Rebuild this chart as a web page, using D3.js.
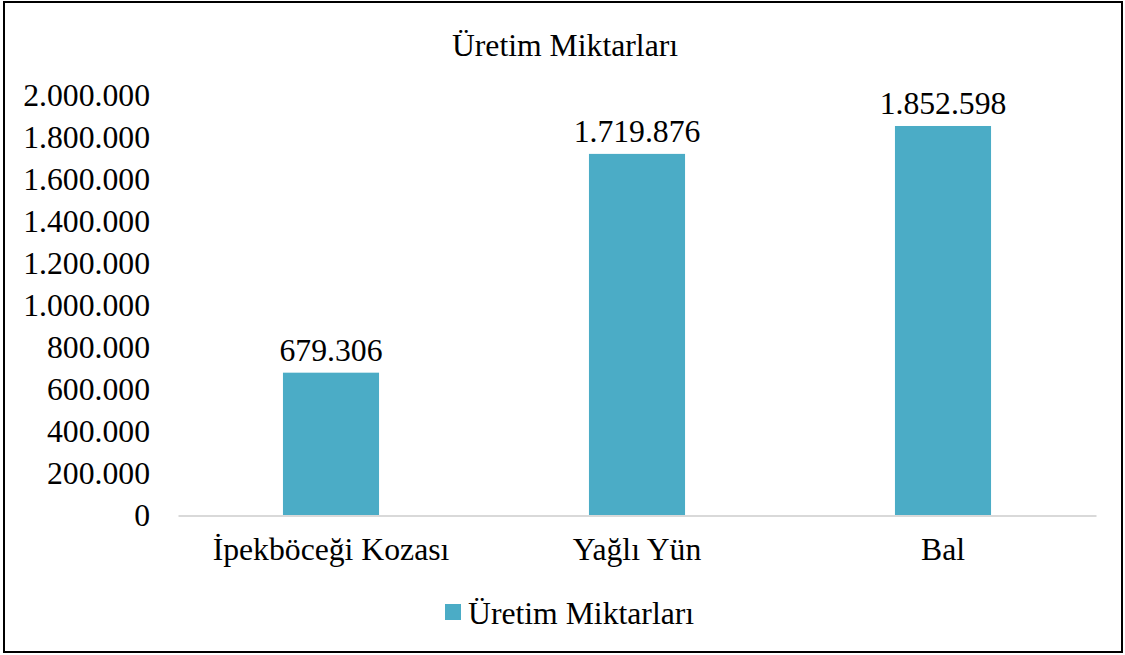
<!DOCTYPE html>
<html>
<head>
<meta charset="utf-8">
<script src="https://cdn.jsdelivr.net/npm/d3@7"></script>
<style>
  body { margin: 0; background: #fff; }
  svg text { font-family: 'Liberation Serif', serif; }
</style>
</head>
<body>
<svg id="chart" width="1125" height="655"></svg>
<script>
const categories = ["İpekböceği Kozası", "Yağlı Yün", "Bal"];
const values = [679306, 1719876, 1852598];
const yTicks = [0, 200000, 400000, 600000, 800000, 1000000, 1200000, 1400000, 1600000, 1800000, 2000000];
const seriesName = "Üretim Miktarları";
const chartTitle = "Üretim Miktarları";

const barColor = "#4BACC6";
const fontSize = 31.7;
const serif = "'Liberation Serif', serif";

const svg = d3.select("#chart");

// outer frame
svg.append("rect")
  .attr("x", 4).attr("y", 2)
  .attr("width", 1118).attr("height", 650)
  .attr("fill", "#fff")
  .attr("stroke", "#000")
  .attr("stroke-width", 2);

const plot = { left: 178, right: 1096, top: 95, bottom: 515.5 };

const x = d3.scaleBand()
  .domain(categories)
  .range([plot.left, plot.right])
  .paddingInner(0.686)
  .paddingOuter(0.343);

const y = d3.scaleLinear()
  .domain([0, 2000000])
  .range([plot.bottom, plot.top]);

// Turkish style thousands separator
const fmt = d3.formatLocale({ decimal: ",", thousands: ".", grouping: [3], currency: ["", " ₺"] }).format(",");

// title
svg.append("text")
  .attr("x", 565).attr("y", 45)
  .attr("text-anchor", "middle")
  .attr("dominant-baseline", "central")
  .attr("font-family", serif)
  .attr("font-size", fontSize)
  .text(chartTitle);

// y axis (labels only)
const yAxis = svg.append("g")
  .attr("transform", `translate(${plot.left - 28},0)`)
  .call(d3.axisLeft(y).tickValues(yTicks).tickFormat(fmt).tickSize(0).tickPadding(0))
  .attr("font-family", serif)
  .attr("font-size", fontSize);
yAxis.select(".domain").remove();
yAxis.selectAll("text").attr("fill", "#000");

// bars
svg.append("g").selectAll("rect")
  .data(values)
  .join("rect")
  .attr("x", (d, i) => x(categories[i]))
  .attr("y", d => y(d))
  .attr("width", x.bandwidth())
  .attr("height", d => y(0) - y(d))
  .attr("fill", barColor);

// data labels
svg.append("g")
  .attr("font-family", serif)
  .attr("font-size", fontSize)
  .selectAll("text")
  .data(values)
  .join("text")
  .attr("x", (d, i) => x(categories[i]) + x.bandwidth() / 2)
  .attr("y", d => y(d) - 12)
  .attr("text-anchor", "middle")
  .text(d => fmt(d));

// baseline / x axis
const xAxis = svg.append("g")
  .attr("transform", `translate(0,${plot.bottom})`)
  .call(d3.axisBottom(x).tickSize(0).tickPadding(22))
  .attr("font-family", serif)
  .attr("font-size", fontSize);
xAxis.select(".domain")
  .attr("stroke", "#d9d9d9")
  .attr("stroke-width", 2);
xAxis.selectAll("text").attr("fill", "#000");

// legend
const legend = svg.append("g").attr("transform", "translate(445,604)");
legend.append("rect")
  .attr("width", 16).attr("height", 16)
  .attr("fill", barColor);
legend.append("text")
  .attr("x", 23).attr("y", 9)
  .attr("dominant-baseline", "central")
  .attr("font-family", serif)
  .attr("font-size", fontSize)
  .text(seriesName);
</script>
</body>
</html>
